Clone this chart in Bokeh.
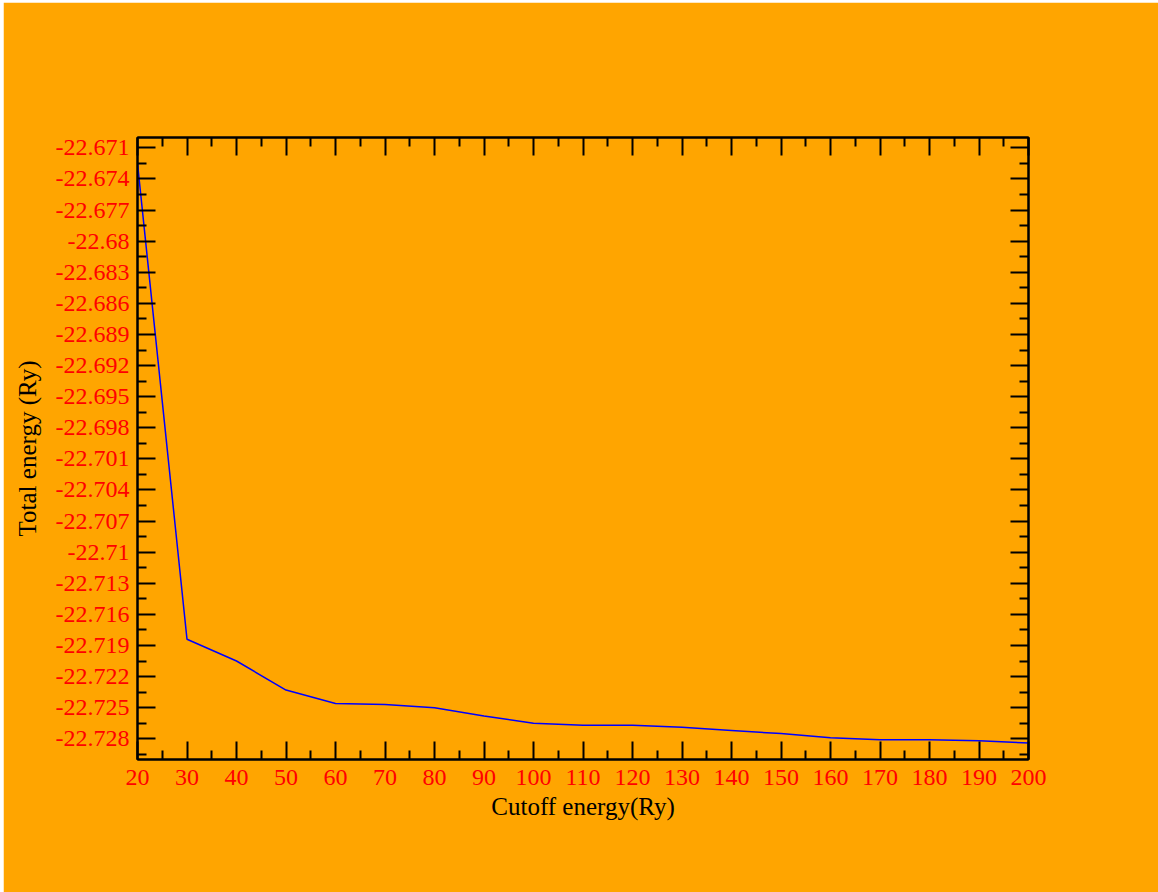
from bokeh.plotting import figure
from bokeh.models import FixedTicker, LinearAxis, Range1d, CustomJSTickFormatter, Spacer
from bokeh.layouts import row, column
from bokeh.embed import file_html
from bokeh.resources import INLINE

# ---- data ----
cutoff = [20, 30, 40, 50, 60, 70, 80, 90, 100, 110, 120, 130, 140, 150, 160, 170, 180, 190, 200]
energy = [-22.6725, -22.7184, -22.7205, -22.7233, -22.7246, -22.7247, -22.7250, -22.7258,
          -22.7265, -22.7267, -22.7267, -22.7269, -22.7272, -22.7275, -22.7279, -22.7281,
          -22.7281, -22.7282, -22.7284]

x_ticks = [20, 30, 40, 50, 60, 70, 80, 90, 100, 110, 120, 130, 140, 150, 160, 170, 180, 190, 200]
x_minor = [25, 35, 45, 55, 65, 75, 85, 95, 105, 115, 125, 135, 145, 155, 165, 175, 185, 195]
y_ticks = [-22.671, -22.674, -22.677, -22.680, -22.683, -22.686, -22.689, -22.692, -22.695,
           -22.698, -22.701, -22.704, -22.707, -22.710, -22.713, -22.716, -22.719, -22.722,
           -22.725, -22.728]
y_tick_labels = ["-22.671", "-22.674", "-22.677", "-22.68", "-22.683", "-22.686", "-22.689",
                 "-22.692", "-22.695", "-22.698", "-22.701", "-22.704", "-22.707", "-22.71",
                 "-22.713", "-22.716", "-22.719", "-22.722", "-22.725", "-22.728"]
y_minor = [-22.6725, -22.6755, -22.6785, -22.6815, -22.6845, -22.6875, -22.6905, -22.6935,
           -22.6965, -22.6995, -22.7025, -22.7055, -22.7085, -22.7115, -22.7145, -22.7175,
           -22.7205, -22.7235, -22.7265, -22.7295]

ORANGE = "#FFA500"
FONT = "Liberation Serif"

p = figure(width=1155, height=890,
           x_range=Range1d(20, 200), y_range=Range1d(-22.73, -22.67),
           output_backend="svg", toolbar_location=None,
           min_border_left=134, min_border_right=130,
           min_border_top=135, min_border_bottom=133,
           background_fill_color=ORANGE, border_fill_color=ORANGE,
           outline_line_color="black", outline_line_width=2)
p.grid.visible = False

p.line(cutoff, energy, line_color="#0000FF", line_width=1.5)

xt = FixedTicker(ticks=x_ticks, minor_ticks=x_minor)
yt = FixedTicker(ticks=y_ticks, minor_ticks=y_minor)
blank = CustomJSTickFormatter(code="return ''")


def style(ax):
    ax.major_tick_in = 18
    ax.major_tick_out = 0
    ax.minor_tick_in = 9
    ax.minor_tick_out = 0
    ax.major_tick_line_width = 2
    ax.minor_tick_line_width = 2
    ax.major_tick_line_color = "black"
    ax.minor_tick_line_color = "black"
    ax.axis_line_width = 2
    ax.axis_line_color = "black"
    ax.major_label_text_font = FONT
    ax.major_label_text_font_size = "24px"
    ax.major_label_text_color = "#FF0000"
    ax.axis_label_text_font = FONT
    ax.axis_label_text_font_size = "25px"
    ax.axis_label_text_font_style = "normal"
    ax.axis_label_text_color = "black"


xa = p.xaxis[0]
xa.ticker = xt
style(xa)
xa.axis_label = "Cutoff energy(Ry)"
xa.major_label_standoff = 10
xa.axis_label_standoff = 5

ya = p.yaxis[0]
ya.ticker = yt
style(ya)
ya.major_label_overrides = {v: s for v, s in zip(y_ticks, y_tick_labels)}
ya.axis_label = "Total energy (Ry)"
ya.major_label_standoff = 8
ya.axis_label_standoff = 12

top = LinearAxis(ticker=xt, formatter=blank)
style(top)
p.add_layout(top, "above")
right = LinearAxis(ticker=yt, formatter=blank)
style(right)
p.add_layout(right, "right")

layout = row(Spacer(width=3, height=892), column(Spacer(width=1155, height=2), p))

open("out.html", "w").write(file_html(layout, INLINE))
